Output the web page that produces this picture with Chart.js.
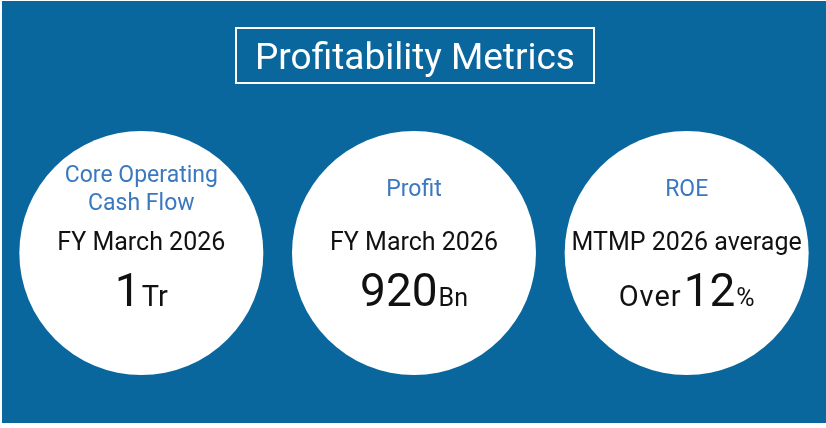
<!DOCTYPE html>
<html>
<head>
<meta charset="utf-8">
<script src="https://cdn.jsdelivr.net/npm/chart.js@4.4.1/dist/chart.umd.min.js"></script>
<style>
  html, body { margin: 0; padding: 0; background: #ffffff; }
  #wrap { width: 826px; height: 428px; }
</style>
</head>
<body>
<div id="wrap"><canvas id="metricsChart" width="826" height="428"></canvas></div>
<script>
const chartTitle = "Profitability Metrics";
const metricNames = [["Core Operating", "Cash Flow"], ["Profit"], ["ROE"]];
const periods = ["FY March 2026", "FY March 2026", "MTMP 2026 average"];
const prefixes = ["", "", "Over"];
const values = ["1", "920", "12"];
const units = ["Tr", "Bn", "%"];
const slots = [1, 2, 3];

const BLUE = "#0a679e";
const LABEL_BLUE = "#3a78c0";
const FONT = "Roboto, 'Liberation Sans', sans-serif";

// background panel + title box
const panelPlugin = {
    id: 'panel',
    beforeDraw(chart) {
        let ctx = chart.ctx;
        ctx.save();
        ctx.fillStyle = "#ffffff";
        ctx.fillRect(0, 0, chart.width, chart.height);
        ctx.fillStyle = BLUE;
        ctx.fillRect(2, 1, chart.width - 2, 422);
        ctx.restore();
    },
    afterDraw(chart) {
        let ctx = chart.ctx;
        ctx.save();
        ctx.strokeStyle = "#ffffff";
        ctx.lineWidth = 2;
        ctx.strokeRect(236, 28, 358, 55);
        ctx.fillStyle = "#ffffff";
        ctx.font = "37px " + FONT;
        ctx.textAlign = "center";
        ctx.textBaseline = "alphabetic";
        ctx.fillText(chartTitle, 415, 69);
        ctx.restore();
    }
};

// texts inside each circle
const circleTextPlugin = {
    id: 'circleText',
    afterDatasetsDraw(chart) {
        let ctx = chart.ctx;
        let meta = chart.getDatasetMeta(0);
        let unitSizes = [29, 25, 25];
        ctx.save();
        ctx.textBaseline = "alphabetic";
        meta.data.forEach(function(pt, i) {
            let cx = pt.x, cy = pt.y;
            // metric name
            ctx.textAlign = "center";
            ctx.fillStyle = LABEL_BLUE;
            ctx.font = "23px " + FONT;
            let names = metricNames[i];
            if (names.length === 2) {
                ctx.fillText(names[0], cx, cy - 71);
                ctx.fillText(names[1], cx, cy - 43);
            } else {
                ctx.fillText(names[0], cx, cy - 57);
            }
            // period
            ctx.fillStyle = "#111111";
            ctx.font = "25px " + FONT;
            ctx.fillText(periods[i], cx, cy - 3);
            // value row
            let preFont = "29px " + FONT;
            let valFont = "46px " + FONT;
            let unitFont = unitSizes[i] + "px " + FONT;
            ctx.letterSpacing = "1px";
            ctx.font = preFont;
            let wPre = prefixes[i] ? ctx.measureText(prefixes[i]).width + 2 : 0;
            ctx.letterSpacing = "0px";
            ctx.font = valFont;
            let wVal = ctx.measureText(values[i]).width + 1;
            ctx.font = unitFont;
            let wUnit = ctx.measureText(units[i]).width;
            let x = cx - (wPre + wVal + wUnit) / 2;
            let by = cy + 53;
            ctx.textAlign = "left";
            if (prefixes[i]) {
                ctx.letterSpacing = "1px";
                ctx.font = preFont;
                ctx.fillText(prefixes[i], x, by);
                ctx.letterSpacing = "0px";
                x += wPre;
            }
            ctx.font = valFont;
            ctx.fillText(values[i], x, by);
            x += wVal;
            ctx.font = unitFont;
            ctx.fillText(units[i], x, by);
        });
        ctx.restore();
    }
};

function manageMetricsChart() {
    let ctx = document.getElementById("metricsChart").getContext('2d');
    let myChart = new Chart(ctx, {
        type: 'bubble',
        data: {
            datasets: [{
                data: slots.map(function(s) { return { x: s, y: 0 }; }),
                backgroundColor: "#ffffff",
                borderWidth: 0,
                radius: 122,
                clip: false
            }]
        },
        options: {
            responsive: false,
            animation: false,
            events: [],
            layout: {
                autoPadding: false,
                padding: { left: 5, right: 3, top: 130, bottom: 52 }
            },
            plugins: {
                legend: { display: false },
                tooltip: { enabled: false }
            },
            scales: {
                x: { type: 'linear', min: 0.5, max: 3.5, display: false },
                y: { type: 'linear', min: -1, max: 1, display: false }
            }
        },
        plugins: [panelPlugin, circleTextPlugin]
    });
}

manageMetricsChart();
</script>
</body>
</html>
